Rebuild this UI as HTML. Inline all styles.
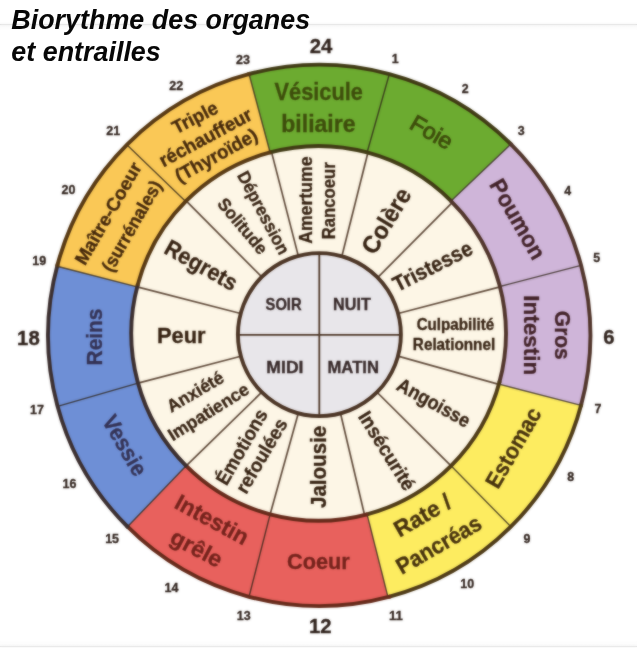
<!DOCTYPE html>
<html lang="fr"><head><meta charset="utf-8"><title>Biorythme des organes et entrailles</title>
<style>
html,body{margin:0;padding:0;background:#fff;}
body{width:637px;height:648px;overflow:hidden;position:relative;font-family:"Liberation Sans",sans-serif;}
svg{position:absolute;left:0;top:0;display:block;will-change:transform;}
svg text{font-family:"Liberation Sans",sans-serif;}
</style></head><body>
<svg width="637" height="648" viewBox="0 0 637 648">
<defs><filter id="soft" x="0" y="0" width="100%" height="100%" color-interpolation-filters="sRGB"><feGaussianBlur stdDeviation="0.85"/></filter></defs>
<g id="art">
<rect x="0" y="0" width="637" height="648" fill="#ffffff"/>
<defs><linearGradient id="sh1" x1="0" y1="0" x2="0" y2="1"><stop offset="0" stop-color="#000" stop-opacity="0.02"/><stop offset="1" stop-color="#000" stop-opacity="0"/></linearGradient><linearGradient id="sh2" x1="0" y1="1" x2="0" y2="0"><stop offset="0" stop-color="#000" stop-opacity="0.015"/><stop offset="1" stop-color="#000" stop-opacity="0"/></linearGradient></defs>
<rect x="0" y="24" width="637" height="1" fill="#dcdcdc"/>
<rect x="0" y="25" width="637" height="6" fill="url(#sh1)"/>
<rect x="0" y="640" width="637" height="6" fill="url(#sh2)"/>
<rect x="0" y="646" width="637" height="1" fill="#e2e2e2"/>
<path d="M249.03,74.02 A271.1,270.6 0 0 1 510.90,144.06 L451.04,200.96 A187.3,187.3 0 0 0 270.12,152.48 Z" fill="#6cab30"/>
<path d="M510.90,144.06 A271.1,270.6 0 0 1 581.06,405.44 L498.91,384.08 A187.3,187.3 0 0 0 451.04,200.96 Z" fill="#cfb5d9"/>
<path d="M581.06,405.44 A271.1,270.6 0 0 1 387.99,597.14 L367.08,514.32 A187.3,187.3 0 0 0 498.91,384.08 Z" fill="#fdec60"/>
<path d="M387.99,597.14 A271.1,270.6 0 0 1 127.50,526.74 L186.16,465.84 A187.3,187.3 0 0 0 367.08,514.32 Z" fill="#e8615d"/>
<path d="M127.50,526.74 A271.1,270.6 0 0 1 57.09,266.28 L137.18,286.82 A187.3,187.3 0 0 0 186.16,465.84 Z" fill="#6e8fd6"/>
<path d="M57.09,266.28 A271.1,270.6 0 0 1 249.03,74.02 L270.12,152.48 A187.3,187.3 0 0 0 137.18,286.82 Z" fill="#fac856"/>
<circle cx="318.6" cy="333.4" r="187.3" fill="#fdf6e6"/>
<circle cx="319.4" cy="334.6" r="81.5" fill="#e8e6ea"/>
<line x1="341.86" y1="256.26" x2="367.87" y2="152.70" stroke="#4b3424" stroke-width="1.7" stroke-opacity="0.9"/>
<line x1="367.08" y1="152.48" x2="389.37" y2="74.02" stroke="#2e2418" stroke-width="1.4" stroke-opacity="0.8"/>
<line x1="377.63" y1="277.58" x2="452.42" y2="202.35" stroke="#4b3424" stroke-width="1.7" stroke-opacity="0.9"/>
<line x1="451.04" y1="200.96" x2="510.90" y2="144.06" stroke="#2e2418" stroke-width="1.4" stroke-opacity="0.8"/>
<line x1="398.12" y1="313.51" x2="500.02" y2="286.82" stroke="#4b3424" stroke-width="1.7" stroke-opacity="0.9"/>
<line x1="499.93" y1="286.50" x2="581.06" y2="265.36" stroke="#2e2418" stroke-width="1.4" stroke-opacity="0.8"/>
<line x1="398.01" y1="356.11" x2="498.82" y2="384.40" stroke="#4b3424" stroke-width="1.7" stroke-opacity="0.9"/>
<line x1="498.91" y1="384.08" x2="581.06" y2="405.44" stroke="#2e2418" stroke-width="1.4" stroke-opacity="0.8"/>
<line x1="377.03" y1="392.23" x2="451.04" y2="465.84" stroke="#4b3424" stroke-width="1.7" stroke-opacity="0.9"/>
<line x1="451.04" y1="465.84" x2="510.90" y2="526.74" stroke="#2e2418" stroke-width="1.4" stroke-opacity="0.8"/>
<line x1="340.49" y1="413.32" x2="364.55" y2="514.98" stroke="#4b3424" stroke-width="1.7" stroke-opacity="0.9"/>
<line x1="367.08" y1="514.32" x2="387.99" y2="597.14" stroke="#2e2418" stroke-width="1.4" stroke-opacity="0.8"/>
<line x1="298.31" y1="413.32" x2="270.12" y2="514.32" stroke="#4b3424" stroke-width="1.7" stroke-opacity="0.9"/>
<line x1="270.12" y1="514.32" x2="249.03" y2="596.78" stroke="#2e2418" stroke-width="1.4" stroke-opacity="0.8"/>
<line x1="261.77" y1="392.23" x2="186.16" y2="465.84" stroke="#4b3424" stroke-width="1.7" stroke-opacity="0.9"/>
<line x1="186.16" y1="465.84" x2="127.50" y2="526.74" stroke="#2e2418" stroke-width="1.4" stroke-opacity="0.8"/>
<line x1="240.83" y1="356.24" x2="138.02" y2="383.14" stroke="#4b3424" stroke-width="1.7" stroke-opacity="0.9"/>
<line x1="138.02" y1="383.14" x2="57.58" y2="406.35" stroke="#2e2418" stroke-width="1.4" stroke-opacity="0.8"/>
<line x1="240.68" y1="313.51" x2="137.18" y2="286.82" stroke="#4b3424" stroke-width="1.7" stroke-opacity="0.9"/>
<line x1="137.18" y1="286.82" x2="57.09" y2="266.28" stroke="#2e2418" stroke-width="1.4" stroke-opacity="0.8"/>
<line x1="261.77" y1="276.97" x2="186.16" y2="200.96" stroke="#4b3424" stroke-width="1.7" stroke-opacity="0.9"/>
<line x1="185.70" y1="201.42" x2="126.84" y2="144.73" stroke="#2e2418" stroke-width="1.4" stroke-opacity="0.8"/>
<line x1="298.31" y1="255.88" x2="271.55" y2="152.11" stroke="#4b3424" stroke-width="1.7" stroke-opacity="0.9"/>
<line x1="270.12" y1="152.48" x2="249.03" y2="74.02" stroke="#2e2418" stroke-width="1.4" stroke-opacity="0.8"/>
<line x1="237.89999999999998" y1="334.9" x2="400.9" y2="334.9" stroke="#4b3424" stroke-width="1.8"/>
<line x1="319.3" y1="253.10000000000002" x2="319.3" y2="416.1" stroke="#4b3424" stroke-width="1.8"/>
<path d="M247.66,74.39 A271.1,270.6 0 0 1 511.90,145.06" fill="none" stroke="#403a14" stroke-width="3.9" stroke-linecap="butt"/>
<path d="M269.18,152.74 A187.3,187.3 0 0 1 451.73,201.65" fill="none" stroke="#403a14" stroke-width="3.9" stroke-linecap="butt"/>
<path d="M509.89,143.06 A271.1,270.6 0 0 1 580.69,406.80" fill="none" stroke="#50342a" stroke-width="3.9" stroke-linecap="butt"/>
<path d="M450.35,200.27 A187.3,187.3 0 0 1 499.26,382.82" fill="none" stroke="#50342a" stroke-width="3.9" stroke-linecap="butt"/>
<path d="M581.43,404.07 A271.1,270.6 0 0 1 387.99,597.14" fill="none" stroke="#4e3a16" stroke-width="3.9" stroke-linecap="butt"/>
<path d="M499.77,380.93 A187.3,187.3 0 0 1 366.13,514.57" fill="none" stroke="#4e3a16" stroke-width="3.9" stroke-linecap="butt"/>
<path d="M390.74,596.41 A271.1,270.6 0 0 1 126.50,525.74" fill="none" stroke="#662a1a" stroke-width="3.9" stroke-linecap="butt"/>
<path d="M368.02,514.06 A187.3,187.3 0 0 1 185.47,465.15" fill="none" stroke="#662a1a" stroke-width="3.9" stroke-linecap="butt"/>
<path d="M128.51,527.74 A271.1,270.6 0 0 1 57.71,264.00" fill="none" stroke="#3b2e2e" stroke-width="3.9" stroke-linecap="butt"/>
<path d="M186.85,466.53 A187.3,187.3 0 0 1 137.94,283.98" fill="none" stroke="#3b2e2e" stroke-width="3.9" stroke-linecap="butt"/>
<path d="M56.97,266.73 A271.1,270.6 0 0 1 250.41,73.66" fill="none" stroke="#573812" stroke-width="3.9" stroke-linecap="butt"/>
<path d="M137.43,285.87 A187.3,187.3 0 0 1 271.07,152.23" fill="none" stroke="#573812" stroke-width="3.9" stroke-linecap="butt"/>
<circle cx="319.4" cy="334.6" r="81.5" fill="none" stroke="#4b3424" stroke-width="3.9"/>
<text transform="translate(318.70,100.46) rotate(0)" font-size="23.35" font-weight="bold" font-style="normal" text-anchor="middle" fill="#3e4d0c" stroke="#3e4d0c" stroke-width="0.32" textLength="88.2" lengthAdjust="spacingAndGlyphs">Vésicule</text>
<text transform="translate(318.40,131.76) rotate(0)" font-size="23.35" font-weight="bold" font-style="normal" text-anchor="middle" fill="#3e4d0c" stroke="#3e4d0c" stroke-width="0.32" textLength="74.4" lengthAdjust="spacingAndGlyphs">biliaire</text>
<text transform="translate(427.73,138.95) rotate(30)" font-size="22.9" font-weight="normal" font-style="normal" text-anchor="middle" fill="#3e4d0c" stroke="#3e4d0c" stroke-width="0.95" textLength="45.1" lengthAdjust="spacingAndGlyphs">Foie</text>
<text transform="translate(510.95,222.97) rotate(60)" font-size="22.9" font-weight="bold" font-style="normal" text-anchor="middle" fill="#412127" stroke="#412127" stroke-width="0.32" textLength="88.7" lengthAdjust="spacingAndGlyphs">Poumon</text>
<text transform="translate(555.06,335.30) rotate(90)" font-size="22.9" font-weight="bold" font-style="normal" text-anchor="middle" fill="#412127" stroke="#412127" stroke-width="0.32" textLength="48.9" lengthAdjust="spacingAndGlyphs">Gros</text>
<text transform="translate(524.06,335.30) rotate(90)" font-size="22.9" font-weight="bold" font-style="normal" text-anchor="middle" fill="#412127" stroke="#412127" stroke-width="0.32" textLength="80.1" lengthAdjust="spacingAndGlyphs">Intestin</text>
<text transform="translate(520.05,451.57) rotate(-60)" font-size="22.9" font-weight="bold" font-style="normal" text-anchor="middle" fill="#45300d" stroke="#45300d" stroke-width="0.32" textLength="88.6" lengthAdjust="spacingAndGlyphs">Estomac</text>
<text transform="translate(426.37,522.15) rotate(-30)" font-size="22.9" font-weight="bold" font-style="normal" text-anchor="middle" fill="#45300d" stroke="#45300d" stroke-width="0.32" textLength="62.2" lengthAdjust="spacingAndGlyphs">Rate /</text>
<text transform="translate(442.67,551.45) rotate(-30)" font-size="22.9" font-weight="bold" font-style="normal" text-anchor="middle" fill="#45300d" stroke="#45300d" stroke-width="0.32" textLength="94.4" lengthAdjust="spacingAndGlyphs">Pancréas</text>
<text transform="translate(318.40,568.64) rotate(0)" font-size="22.9" font-weight="bold" font-style="normal" text-anchor="middle" fill="#74231c" stroke="#74231c" stroke-width="0.32" textLength="62.8" lengthAdjust="spacingAndGlyphs">Coeur</text>
<text transform="translate(208.26,526.52) rotate(28.6)" font-size="22.9" font-weight="bold" font-style="normal" text-anchor="middle" fill="#74231c" stroke="#74231c" stroke-width="0.32" textLength="80.1" lengthAdjust="spacingAndGlyphs">Intestin</text>
<text transform="translate(193.01,555.05) rotate(28)" font-size="22.9" font-weight="bold" font-style="normal" text-anchor="middle" fill="#74231c" stroke="#74231c" stroke-width="0.32" textLength="55.4" lengthAdjust="spacingAndGlyphs">grêle</text>
<text transform="translate(118.04,449.44) rotate(60)" font-size="22.9" font-weight="bold" font-style="normal" text-anchor="middle" fill="#343254" stroke="#343254" stroke-width="0.32" textLength="66.1" lengthAdjust="spacingAndGlyphs">Vessie</text>
<text transform="translate(101.64,337.00) rotate(-90)" font-size="22.9" font-weight="bold" font-style="normal" text-anchor="middle" fill="#343254" stroke="#343254" stroke-width="0.32" textLength="56.9" lengthAdjust="spacingAndGlyphs">Reins</text>
<text transform="translate(113.66,216.63) rotate(-60)" font-size="18.5" font-weight="bold" font-style="normal" text-anchor="middle" fill="#43270b" stroke="#43270b" stroke-width="0.32" textLength="114.9" lengthAdjust="spacingAndGlyphs">Maître-Coeur</text>
<text transform="translate(137.11,229.20) rotate(-60)" font-size="18.5" font-weight="bold" font-style="normal" text-anchor="middle" fill="#43270b" stroke="#43270b" stroke-width="0.32" textLength="101.8" lengthAdjust="spacingAndGlyphs">(surrénales)</text>
<text transform="translate(197.86,123.24) rotate(-27.5)" font-size="18.86" font-weight="bold" font-style="normal" text-anchor="middle" fill="#43270b" stroke="#43270b" stroke-width="0.32" textLength="48.9" lengthAdjust="spacingAndGlyphs">Triple</text>
<text transform="translate(208.55,143.17) rotate(-28.3)" font-size="19.13" font-weight="bold" font-style="normal" text-anchor="middle" fill="#43270b" stroke="#43270b" stroke-width="0.32" textLength="102.5" lengthAdjust="spacingAndGlyphs">réchauffeur</text>
<text transform="translate(219.41,161.04) rotate(-29)" font-size="19.13" font-weight="bold" font-style="normal" text-anchor="middle" fill="#43270b" stroke="#43270b" stroke-width="0.32" textLength="91.1" lengthAdjust="spacingAndGlyphs">(Thyroïde)</text>
<text transform="translate(312.14,200.20) rotate(-90)" font-size="17.51" font-weight="bold" font-style="normal" text-anchor="middle" fill="#342010" stroke="#342010" stroke-width="0.32" textLength="87.3" lengthAdjust="spacingAndGlyphs">Amertume</text>
<text transform="translate(335.24,200.80) rotate(-90)" font-size="17.51" font-weight="bold" font-style="normal" text-anchor="middle" fill="#342010" stroke="#342010" stroke-width="0.32" textLength="76.8" lengthAdjust="spacingAndGlyphs">Rancoeur</text>
<text transform="translate(393.40,225.11) rotate(-58.5)" font-size="24.43" font-weight="bold" font-style="normal" text-anchor="middle" fill="#342010" stroke="#342010" stroke-width="0.32" textLength="72.4" lengthAdjust="spacingAndGlyphs">Colère</text>
<text transform="translate(435.86,272.72) rotate(-27)" font-size="21.73" font-weight="bold" font-style="normal" text-anchor="middle" fill="#342010" stroke="#342010" stroke-width="0.32" textLength="86.4" lengthAdjust="spacingAndGlyphs">Tristesse</text>
<text transform="translate(455.40,329.95) rotate(0)" font-size="15.63" font-weight="bold" font-style="normal" text-anchor="middle" fill="#342010" stroke="#342010" stroke-width="0.32" textLength="77.5" lengthAdjust="spacingAndGlyphs">Culpabilité</text>
<text transform="translate(454.00,350.05) rotate(0)" font-size="15.63" font-weight="bold" font-style="normal" text-anchor="middle" fill="#342010" stroke="#342010" stroke-width="0.32" textLength="82.3" lengthAdjust="spacingAndGlyphs">Relationnel</text>
<text transform="translate(430.54,408.44) rotate(29)" font-size="19.58" font-weight="bold" font-style="normal" text-anchor="middle" fill="#342010" stroke="#342010" stroke-width="0.32" textLength="80.5" lengthAdjust="spacingAndGlyphs">Angoisse</text>
<text transform="translate(381.19,454.29) rotate(58)" font-size="19.58" font-weight="bold" font-style="normal" text-anchor="middle" fill="#342010" stroke="#342010" stroke-width="0.32" textLength="89.4" lengthAdjust="spacingAndGlyphs">Insécurité</text>
<text transform="translate(326.12,466.90) rotate(-90)" font-size="22.45" font-weight="bold" font-style="normal" text-anchor="middle" fill="#342010" stroke="#342010" stroke-width="0.32" textLength="82.3" lengthAdjust="spacingAndGlyphs">Jalousie</text>
<text transform="translate(247.34,450.30) rotate(-60)" font-size="19.31" font-weight="bold" font-style="normal" text-anchor="middle" fill="#342010" stroke="#342010" stroke-width="0.32" textLength="83.8" lengthAdjust="spacingAndGlyphs">Émotions</text>
<text transform="translate(267.22,459.14) rotate(-59.5)" font-size="19.31" font-weight="bold" font-style="normal" text-anchor="middle" fill="#342010" stroke="#342010" stroke-width="0.32" textLength="83.1" lengthAdjust="spacingAndGlyphs">refoulées</text>
<text transform="translate(198.24,396.98) rotate(-30.5)" font-size="17.78" font-weight="bold" font-style="normal" text-anchor="middle" fill="#342010" stroke="#342010" stroke-width="0.32" textLength="62.8" lengthAdjust="spacingAndGlyphs">Anxiété</text>
<text transform="translate(211.64,417.01) rotate(-32)" font-size="17.78" font-weight="bold" font-style="normal" text-anchor="middle" fill="#342010" stroke="#342010" stroke-width="0.32" textLength="92.0" lengthAdjust="spacingAndGlyphs">Impatience</text>
<text transform="translate(181.30,343.32) rotate(0)" font-size="22.81" font-weight="bold" font-style="normal" text-anchor="middle" fill="#342010" stroke="#342010" stroke-width="0.32" textLength="48.6" lengthAdjust="spacingAndGlyphs">Peur</text>
<text transform="translate(197.38,272.00) rotate(29.3)" font-size="22.99" font-weight="bold" font-style="normal" text-anchor="middle" fill="#342010" stroke="#342010" stroke-width="0.32" textLength="79.7" lengthAdjust="spacingAndGlyphs">Regrets</text>
<text transform="translate(258.15,215.65) rotate(62)" font-size="17.69" font-weight="bold" font-style="normal" text-anchor="middle" fill="#342010" stroke="#342010" stroke-width="0.32" textLength="91.3" lengthAdjust="spacingAndGlyphs">Dépression</text>
<text transform="translate(238.10,230.04) rotate(50)" font-size="17.6" font-weight="bold" font-style="normal" text-anchor="middle" fill="#342010" stroke="#342010" stroke-width="0.32" textLength="67.1" lengthAdjust="spacingAndGlyphs">Solitude</text>
<text transform="translate(283.60,309.74) rotate(0)" font-size="16.34" font-weight="bold" font-style="normal" text-anchor="middle" fill="#352727" stroke="#352727" stroke-width="0.32" textLength="36.0" lengthAdjust="spacingAndGlyphs">SOIR</text>
<text transform="translate(351.90,309.74) rotate(0)" font-size="16.34" font-weight="bold" font-style="normal" text-anchor="middle" fill="#352727" stroke="#352727" stroke-width="0.32" textLength="37.7" lengthAdjust="spacingAndGlyphs">NUIT</text>
<text transform="translate(284.90,372.54) rotate(0)" font-size="16.34" font-weight="bold" font-style="normal" text-anchor="middle" fill="#352727" stroke="#352727" stroke-width="0.32" textLength="37.1" lengthAdjust="spacingAndGlyphs">MIDI</text>
<text transform="translate(353.20,372.54) rotate(0)" font-size="16.34" font-weight="bold" font-style="normal" text-anchor="middle" fill="#352727" stroke="#352727" stroke-width="0.32" textLength="51.4" lengthAdjust="spacingAndGlyphs">MATIN</text>
<text transform="translate(321.00,53.20) rotate(0)" font-size="20.03" font-weight="bold" font-style="normal" text-anchor="middle" fill="#2e211b" stroke="#2e211b" stroke-width="0.32" textLength="22.6" lengthAdjust="spacingAndGlyphs">24</text>
<text transform="translate(609.00,344.30) rotate(0)" font-size="20.03" font-weight="bold" font-style="normal" text-anchor="middle" fill="#2e211b" stroke="#2e211b" stroke-width="0.32" textLength="11.3" lengthAdjust="spacingAndGlyphs">6</text>
<text transform="translate(320.20,633.25) rotate(0)" font-size="20.03" font-weight="bold" font-style="normal" text-anchor="middle" fill="#2e211b" stroke="#2e211b" stroke-width="0.32" textLength="22.6" lengthAdjust="spacingAndGlyphs">12</text>
<text transform="translate(28.40,344.60) rotate(0)" font-size="20.03" font-weight="bold" font-style="normal" text-anchor="middle" fill="#2e211b" stroke="#2e211b" stroke-width="0.32" textLength="22.6" lengthAdjust="spacingAndGlyphs">18</text>
<text transform="translate(395.20,63.05) rotate(0)" font-size="13.01" font-weight="bold" font-style="normal" text-anchor="middle" fill="#2e211b" stroke="#2e211b" stroke-width="0.32" textLength="6.9" lengthAdjust="spacingAndGlyphs">1</text>
<text transform="translate(465.30,93.05) rotate(0)" font-size="13.01" font-weight="bold" font-style="normal" text-anchor="middle" fill="#2e211b" stroke="#2e211b" stroke-width="0.32" textLength="6.9" lengthAdjust="spacingAndGlyphs">2</text>
<text transform="translate(521.20,134.55) rotate(0)" font-size="13.01" font-weight="bold" font-style="normal" text-anchor="middle" fill="#2e211b" stroke="#2e211b" stroke-width="0.32" textLength="6.9" lengthAdjust="spacingAndGlyphs">3</text>
<text transform="translate(567.70,194.95) rotate(0)" font-size="13.01" font-weight="bold" font-style="normal" text-anchor="middle" fill="#2e211b" stroke="#2e211b" stroke-width="0.32" textLength="6.9" lengthAdjust="spacingAndGlyphs">4</text>
<text transform="translate(596.80,261.65) rotate(0)" font-size="13.01" font-weight="bold" font-style="normal" text-anchor="middle" fill="#2e211b" stroke="#2e211b" stroke-width="0.32" textLength="6.9" lengthAdjust="spacingAndGlyphs">5</text>
<text transform="translate(598.00,412.95) rotate(0)" font-size="13.01" font-weight="bold" font-style="normal" text-anchor="middle" fill="#2e211b" stroke="#2e211b" stroke-width="0.32" textLength="6.9" lengthAdjust="spacingAndGlyphs">7</text>
<text transform="translate(570.80,480.95) rotate(0)" font-size="13.01" font-weight="bold" font-style="normal" text-anchor="middle" fill="#2e211b" stroke="#2e211b" stroke-width="0.32" textLength="6.9" lengthAdjust="spacingAndGlyphs">8</text>
<text transform="translate(527.00,542.75) rotate(0)" font-size="13.01" font-weight="bold" font-style="normal" text-anchor="middle" fill="#2e211b" stroke="#2e211b" stroke-width="0.32" textLength="6.9" lengthAdjust="spacingAndGlyphs">9</text>
<text transform="translate(467.30,588.35) rotate(0)" font-size="13.01" font-weight="bold" font-style="normal" text-anchor="middle" fill="#2e211b" stroke="#2e211b" stroke-width="0.32" textLength="13.9" lengthAdjust="spacingAndGlyphs">10</text>
<text transform="translate(395.90,619.55) rotate(0)" font-size="13.01" font-weight="bold" font-style="normal" text-anchor="middle" fill="#2e211b" stroke="#2e211b" stroke-width="0.32" textLength="13.9" lengthAdjust="spacingAndGlyphs">11</text>
<text transform="translate(243.70,619.95) rotate(0)" font-size="13.01" font-weight="bold" font-style="normal" text-anchor="middle" fill="#2e211b" stroke="#2e211b" stroke-width="0.32" textLength="13.9" lengthAdjust="spacingAndGlyphs">13</text>
<text transform="translate(171.50,592.45) rotate(0)" font-size="13.01" font-weight="bold" font-style="normal" text-anchor="middle" fill="#2e211b" stroke="#2e211b" stroke-width="0.32" textLength="13.9" lengthAdjust="spacingAndGlyphs">14</text>
<text transform="translate(112.10,543.25) rotate(0)" font-size="13.01" font-weight="bold" font-style="normal" text-anchor="middle" fill="#2e211b" stroke="#2e211b" stroke-width="0.32" textLength="13.9" lengthAdjust="spacingAndGlyphs">15</text>
<text transform="translate(69.50,487.95) rotate(0)" font-size="13.01" font-weight="bold" font-style="normal" text-anchor="middle" fill="#2e211b" stroke="#2e211b" stroke-width="0.32" textLength="13.9" lengthAdjust="spacingAndGlyphs">16</text>
<text transform="translate(37.00,413.95) rotate(0)" font-size="13.01" font-weight="bold" font-style="normal" text-anchor="middle" fill="#2e211b" stroke="#2e211b" stroke-width="0.32" textLength="13.9" lengthAdjust="spacingAndGlyphs">17</text>
<text transform="translate(39.30,265.45) rotate(0)" font-size="13.01" font-weight="bold" font-style="normal" text-anchor="middle" fill="#2e211b" stroke="#2e211b" stroke-width="0.32" textLength="13.9" lengthAdjust="spacingAndGlyphs">19</text>
<text transform="translate(68.50,193.95) rotate(0)" font-size="13.01" font-weight="bold" font-style="normal" text-anchor="middle" fill="#2e211b" stroke="#2e211b" stroke-width="0.32" textLength="13.9" lengthAdjust="spacingAndGlyphs">20</text>
<text transform="translate(113.30,135.45) rotate(0)" font-size="13.01" font-weight="bold" font-style="normal" text-anchor="middle" fill="#2e211b" stroke="#2e211b" stroke-width="0.32" textLength="13.9" lengthAdjust="spacingAndGlyphs">21</text>
<text transform="translate(176.30,90.35) rotate(0)" font-size="13.01" font-weight="bold" font-style="normal" text-anchor="middle" fill="#2e211b" stroke="#2e211b" stroke-width="0.32" textLength="13.9" lengthAdjust="spacingAndGlyphs">22</text>
<text transform="translate(243.00,63.75) rotate(0)" font-size="13.01" font-weight="bold" font-style="normal" text-anchor="middle" fill="#2e211b" stroke="#2e211b" stroke-width="0.32" textLength="13.9" lengthAdjust="spacingAndGlyphs">23</text>
</g>
<use href="#art" filter="url(#soft)" opacity="0.55"/>
<g opacity="0.97">
<text x="11.3" y="28.9" font-size="26.9" font-weight="bold" font-style="italic" fill="#000">Biorythme des organes</text>
<text x="11.3" y="60.6" font-size="26.9" font-weight="bold" font-style="italic" fill="#000">et entrailles</text>
</g>
</svg>
</body></html>
